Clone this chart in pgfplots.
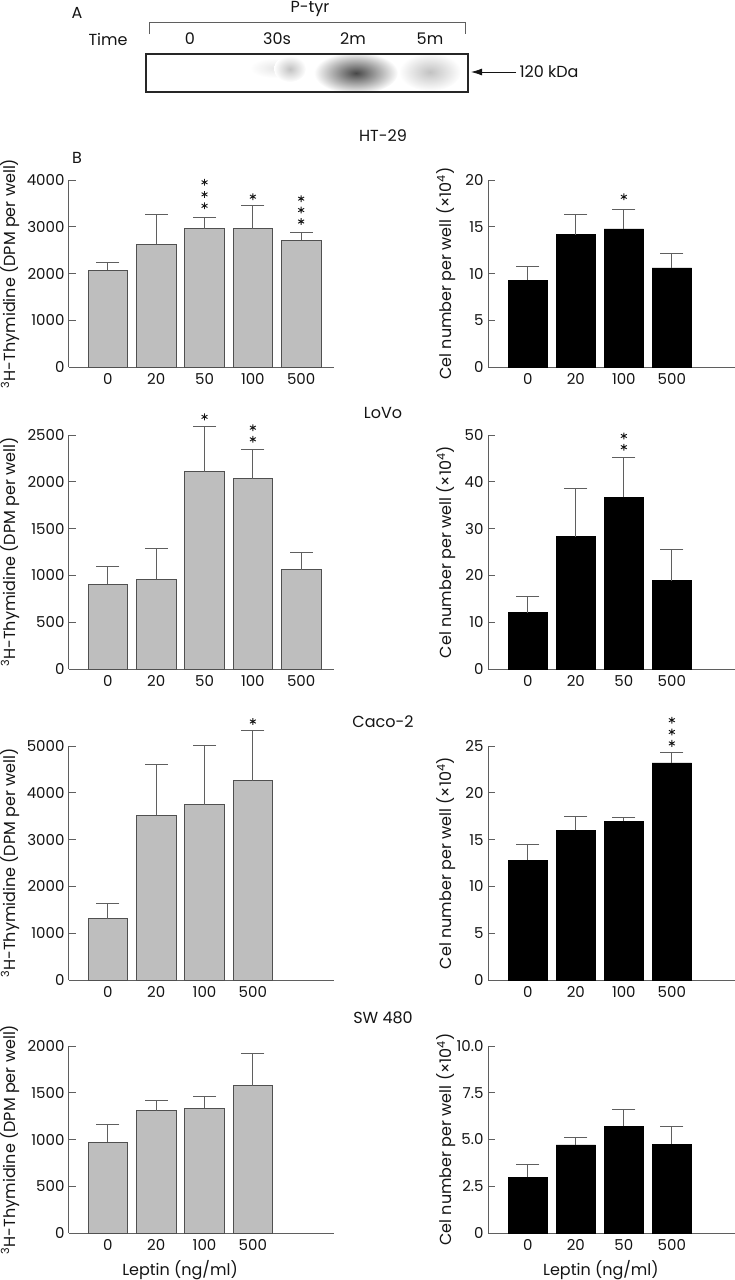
\documentclass[border=0pt]{standalone}
\usepackage{pgfplots}
\pgfplotsset{compat=1.18}
\usepackage{pgfplotstable}
\usepackage{fontspec}
\setmainfont{Poppins}
\usetikzlibrary{arrows.meta}
\definecolor{barg}{RGB}{190,190,190}
\definecolor{edgeg}{RGB}{80,80,80}
\definecolor{axg}{RGB}{95,95,95}
\definecolor{txt}{RGB}{20,20,20}

% HT-29
\pgfplotstableread{
x y top
0 2070 2245
1 2622 3266
2 2958 3189
3 2958 3455
4 2713 2867
}\htl
\pgfplotstableread{
x y top
0 9.3 10.73
1 14.16 16.33
2 14.76 16.85
3 10.6 12.13
}\htr
% LoVo
\pgfplotstableread{
x y top
0 905 1092
1 958 1292
2 2106 2595
3 2035 2345
4 1060 1243
}\lol
\pgfplotstableread{
x y top
0 12.04 15.5
1 28.3 38.6
2 36.7 45.2
3 18.9 25.6
}\lor
% Caco-2
\pgfplotstableread{
x y top
0 1308 1629
1 3517 4608
2 3748 5014
3 4259 5336
}\cal
\pgfplotstableread{
x y top
0 12.8 14.46
1 16.0 17.47
2 16.95 17.33
3 23.2 24.3
}\car
% SW 480
\pgfplotstableread{
x y top
0 972 1164
1 1307 1416
2 1335 1455
3 1576 1918
}\swl
\pgfplotstableread{
x y top
0 2.97 3.64
1 4.72 5.12
2 5.70 6.61
3 4.76 5.68
}\swr

\newcommand\fs{\fontsize{16}{18}\selectfont}
\newcommand\ft{\fontsize{15}{17}\selectfont}

\pgfplotsset{
  barax/.style={
    scale only axis, anchor=south west, clip=false,
    axis lines=left, axis line style={-, draw=axg, line width=1pt},
    ymin=0,
    tick align=inside, major tick length=7pt,
    ytick style={draw=axg, line width=1pt},
    xtick style={draw=none},
    tick label style={font=\ft, text=txt},
    yticklabel style={xshift=-1pt},
    xticklabel style={yshift=-3pt},
    /pgf/number format/assume math mode=true,
    /pgf/number format/1000 sep={},
    scaled y ticks=false,
    label style={font=\fs, text=txt},
  },
  leftax/.style={barax, width=265pt, xmin=-0.806, xmax=4.68,
    ylabel={\textsuperscript{3}H-Thymidine (DPM per well)},
    ylabel style={at={(axis description cs:-0.223,0.5)}, anchor=center}},
  rightax/.style={barax, width=247pt, xmin=-0.83, xmax=4.316,
    ylabel={Cel number per well (×10\textsuperscript{4})},
    ylabel style={at={(axis description cs:-0.17,0.5)}, anchor=center}},
  greybar/.style={ybar, bar width=0.82, fill=barg, draw=edgeg, line width=0.9pt,
    error bars/.cd, y dir=plus, y explicit, error mark=none,
    error bar style={draw=axg, line width=1pt}},
  blackbar/.style={ybar, bar width=0.82, fill=black, draw=black, line width=0.5pt,
    error bars/.cd, y dir=plus, y explicit, error mark=none,
    error bar style={draw=axg, line width=1pt}},
  caps/.style={only marks, mark=-, mark size=11.5pt, mark options={draw=axg, line width=1pt}},
  stars/.style={only marks, mark=asterisk, mark size=3.4pt, mark options={draw=txt, line width=0.9pt}},
}

\begin{document}
\begin{tikzpicture}[x=1pt,y=1pt]
\useasboundingbox (0,0) rectangle (735,-1280);

% ---------- Panel A ----------
\begin{scope}[font=\fs, text=txt]
\node at (77,-13) {A};
\node at (310,-9) {P-tyr};
\draw[axg, line width=0.8pt] (149,-34) -- (149,-22) -- (465,-22) -- (465,-34);
\node at (108,-39) {Time};
\node at (190,-39) {0};
\node at (277,-39) {30s};
\node at (353,-39) {2m};
\node at (430,-39) {5m};
\begin{scope}
\clip (146,-54) rectangle (468,-92);
\shade[inner color=black!9, outer color=white] (274,-68) ellipse (24pt and 10pt);
\shade[inner color=black!24, outer color=white] (290,-69) ellipse (16pt and 13pt);
\shade[inner color=black!72, outer color=white] (356,-73) ellipse (42pt and 21pt);
\shade[inner color=black!24, outer color=white] (430,-72) ellipse (31pt and 19pt);
\end{scope}
\draw[line width=2.6pt, black!85] (146,-54) rectangle (468,-92);
\draw[-{Latex[length=11pt,width=7pt]}, line width=0.8pt, txt] (516,-72) -- (471,-72);
\node[anchor=west] at (516,-72) {120 kDa};
\end{scope}

\node[font=\fs, text=txt] at (383,-136) {HT-29};
\node[font=\fs, text=txt] at (77,-158) {B};
\node[font=\fs, text=txt] at (383,-413) {LoVo};
\node[font=\fs, text=txt] at (383,-722) {Caco-2};
\node[font=\fs, text=txt] at (383,-1018) {SW 480};

% ---------- Row 1: HT-29 ----------
\begin{axis}[leftax, at={(69pt,-367pt)}, height=187pt, ymax=4000,
  ytick={0,1000,2000,3000,4000}, xtick={0,1,2,3,4}, xticklabels={0,20,50,100,500}]
\addplot[greybar] table[x=x, y=y, y error expr=\thisrow{top}-\thisrow{y}] {\htl};
\addplot[caps] table[x=x, y=top] {\htl};
\addplot[stars] coordinates {(2,3951) (2,3692) (2,3448) (3,3643) (4,3601) (4,3357) (4,3112)};
\end{axis}
\begin{axis}[rightax, at={(488pt,-367pt)}, height=187pt, ymax=20,
  ytick={0,5,10,15,20}, xtick={0,1,2,3}, xticklabels={0,20,100,500}]
\addplot[blackbar] table[x=x, y=y, y error expr=\thisrow{top}-\thisrow{y}] {\htr};
\addplot[caps] table[x=x, y=top] {\htr};
\addplot[stars] coordinates {(2,18.2)};
\end{axis}

% ---------- Row 2: LoVo ----------
\begin{axis}[leftax, at={(69pt,-669pt)}, height=234pt, ymax=2500,
  ytick={0,500,1000,1500,2000,2500}, xtick={0,1,2,3,4}, xticklabels={0,20,50,100,500}]
\addplot[greybar] table[x=x, y=y, y error expr=\thisrow{top}-\thisrow{y}] {\lol};
\addplot[caps] table[x=x, y=top] {\lol};
\addplot[stars] coordinates {(2,2694) (3,2578) (3,2454)};
\end{axis}
\begin{axis}[rightax, at={(488pt,-669pt)}, height=234pt, ymax=50,
  ytick={0,10,20,30,40,50}, xtick={0,1,2,3}, xticklabels={0,20,50,500}]
\addplot[blackbar] table[x=x, y=y, y error expr=\thisrow{top}-\thisrow{y}] {\lor};
\addplot[caps] table[x=x, y=top] {\lor};
\addplot[stars] coordinates {(2,49.8) (2,47.4)};
\end{axis}

% ---------- Row 3: Caco-2 ----------
\begin{axis}[leftax, at={(69pt,-980pt)}, height=234pt, ymax=5000,
  ytick={0,1000,2000,3000,4000,5000}, xtick={0,1,2,3}, xticklabels={0,20,100,500}]
\addplot[greybar] table[x=x, y=y, y error expr=\thisrow{top}-\thisrow{y}] {\cal};
\addplot[caps] table[x=x, y=top] {\cal};
\addplot[stars] coordinates {(3,5524)};
\end{axis}
\begin{axis}[rightax, at={(488pt,-980pt)}, height=234pt, ymax=25,
  ytick={0,5,10,15,20,25}, xtick={0,1,2,3}, xticklabels={0,20,100,500}]
\addplot[blackbar] table[x=x, y=y, y error expr=\thisrow{top}-\thisrow{y}] {\car};
\addplot[caps] table[x=x, y=top] {\car};
\addplot[stars] coordinates {(3,27.76) (3,26.5) (3,25.28)};
\end{axis}

% ---------- Row 4: SW 480 ----------
\begin{axis}[leftax, at={(69pt,-1233pt)}, height=187pt, ymax=2000,
  ytick={0,500,1000,1500,2000}, xtick={0,1,2,3}, xticklabels={0,20,100,500},
  xlabel={Leptin (ng/ml)},
  xlabel style={at={(axis description cs:0.419,0)}, anchor=center, yshift=-37pt}]
\addplot[greybar] table[x=x, y=y, y error expr=\thisrow{top}-\thisrow{y}] {\swl};
\addplot[caps] table[x=x, y=top] {\swl};
\end{axis}
\begin{axis}[rightax, at={(488pt,-1233pt)}, height=187pt, ymax=10,
  ytick={0,2.5,5,7.5,10}, yticklabels={0,2.5,5.0,7.5,10.0},
  xtick={0,1,2,3}, xticklabels={0,20,50,500},
  xlabel={Leptin (ng/ml)},
  xlabel style={at={(axis description cs:0.457,0)}, anchor=center, yshift=-37pt}]
\addplot[blackbar] table[x=x, y=y, y error expr=\thisrow{top}-\thisrow{y}] {\swr};
\addplot[caps] table[x=x, y=top] {\swr};
\end{axis}
\end{tikzpicture}
\end{document}
